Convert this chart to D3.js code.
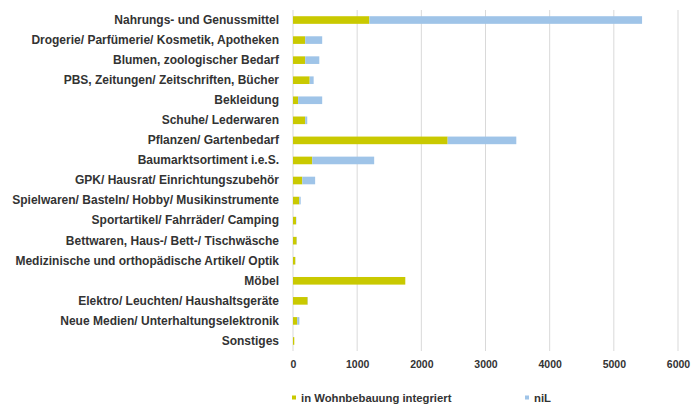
<!DOCTYPE html>
<html lang="de">
<head>
  <meta charset="UTF-8">
  <title>Sortimente - Verkaufsfläche</title>
  <script src="https://d3js.org/d3.v7.min.js"></script>
  <style>
    body {
      margin: 0;
      background: #fff;
      font-family: "Liberation Sans", Arial, sans-serif;
    }
    .cat text { font-size: 12px; font-weight: bold; fill: #333; }
    .x-axis text { font-size: 10.5px; font-weight: bold; fill: #333; }
    .legend text { font-size: 11.3px; font-weight: bold; fill: #333; }
  </style>
</head>
<body>
<svg width="692" height="405"></svg>
<script>
  const categories = [
    "Nahrungs- und Genussmittel",
    "Drogerie/ Parfümerie/ Kosmetik, Apotheken",
    "Blumen, zoologischer Bedarf",
    "PBS, Zeitungen/ Zeitschriften, Bücher",
    "Bekleidung",
    "Schuhe/ Lederwaren",
    "Pflanzen/ Gartenbedarf",
    "Baumarktsortiment i.e.S.",
    "GPK/ Hausrat/ Einrichtungszubehör",
    "Spielwaren/ Basteln/ Hobby/ Musikinstrumente",
    "Sportartikel/ Fahrräder/ Camping",
    "Bettwaren, Haus-/ Bett-/ Tischwäsche",
    "Medizinische und orthopädische Artikel/ Optik",
    "Möbel",
    "Elektro/ Leuchten/ Haushaltsgeräte",
    "Neue Medien/ Unterhaltungselektronik",
    "Sonstiges"
  ];
  const integriert = [1190, 190, 190, 260, 80, 190, 2410, 300, 145, 98, 47, 57, 36, 1750, 228, 67, 20];
  const nil        = [4250, 265, 220, 62, 375, 32, 1070, 965, 200, 22, 5, 4, 2, 0, 4, 32, 0];
  const seriesNames = ["in Wohnbebauung integriert", "niL"];
  const xTicks = [0, 1000, 2000, 3000, 4000, 5000, 6000];

  const svg = d3.select("svg");
  const margin = { top: 10, left: 293, right: 14, bottom: 54 };
  const width = 692, height = 405;

  const x = d3.scaleLinear().domain([0, 6000]).range([margin.left, width - margin.right]);
  const y = d3.scaleBand().domain(categories).range([margin.top, height - margin.bottom]).paddingInner(0.62).paddingOuter(0.31);
  const color = d3.scaleOrdinal().domain(seriesNames).range(["#c9c900", "#9fc4e8"]);

  // gridlines
  svg.append("g")
    .selectAll("line")
    .data(xTicks)
    .join("line")
    .attr("x1", d => x(d)).attr("x2", d => x(d))
    .attr("y1", margin.top).attr("y2", height - margin.bottom)
    .attr("stroke", "#d9d9d9")
    .attr("stroke-width", 1);

  // stacked bars
  const rows = categories.map((c, i) => ({ cat: c, a: integriert[i], b: nil[i] }));
  const stack = d3.stack().keys(["a", "b"])(rows);
  svg.append("g")
    .selectAll("g")
    .data(stack)
    .join("g")
    .attr("fill", (d, i) => color(seriesNames[i]))
    .selectAll("rect")
    .data(d => d)
    .join("rect")
    .attr("x", d => x(d[0]))
    .attr("y", d => y(d.data.cat))
    .attr("width", d => x(d[1]) - x(d[0]))
    .attr("height", y.bandwidth());

  // category labels
  const yAxis = svg.append("g")
    .attr("class", "cat")
    .attr("transform", `translate(${margin.left},0)`)
    .call(d3.axisLeft(y).tickSize(0).tickPadding(14));
  yAxis.select(".domain").remove();

  // x axis labels
  const xAxis = svg.append("g")
    .attr("class", "x-axis")
    .attr("transform", `translate(0,${height - margin.bottom})`)
    .call(d3.axisBottom(x).tickValues(xTicks).tickFormat(d3.format("d")).tickSize(0).tickPadding(10));
  xAxis.select(".domain").remove();

  // legend
  const legend = svg.append("g").attr("class", "legend");
  const lx = [292, 525];
  seriesNames.forEach((s, i) => {
    const g = legend.append("g").attr("transform", `translate(${lx[i]},398)`);
    g.append("rect").attr("x", 0).attr("y", -2.5).attr("width", 4).attr("height", 4).attr("fill", color(s));
    g.append("text").attr("x", 9).attr("y", 0).attr("dy", "0.35em").text(s);
  });
</script>
</body>
</html>
